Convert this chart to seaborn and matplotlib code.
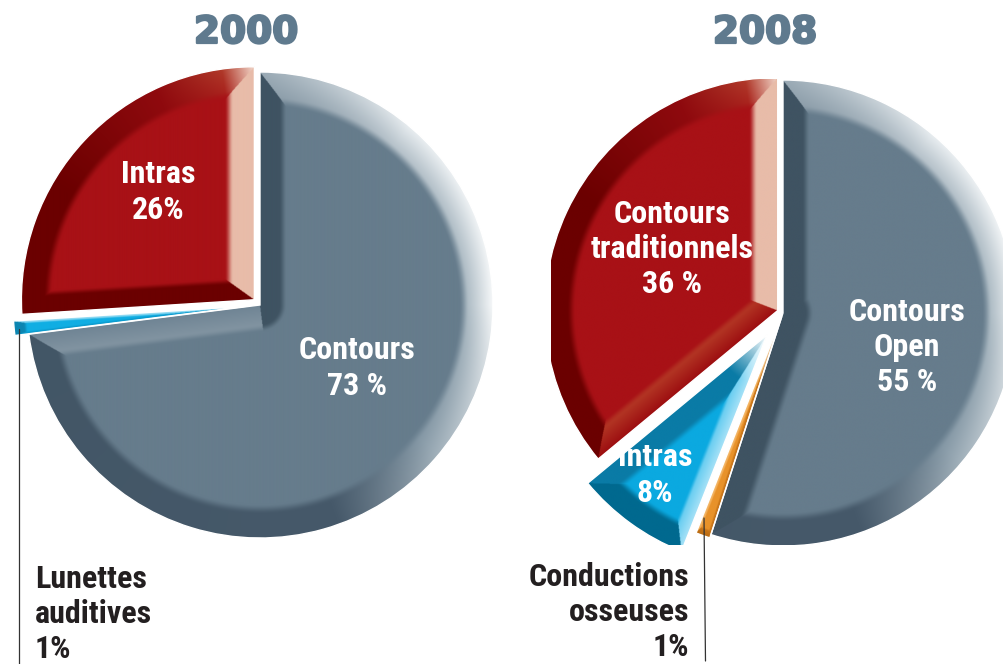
import numpy as np
import matplotlib
matplotlib.use('Agg')
import matplotlib.pyplot as plt
import matplotlib.patheffects as pe
from matplotlib.colors import to_rgb
import seaborn as sns

# values (clockwise from the top)
years = ['2000', '2008']
names_2000 = ['Contours', 'Lunettes auditives', 'Intras']
values_2000 = [73, 1, 26]
names_2008 = ['Contours Open', 'Conductions osseuses', 'Intras', 'Contours traditionnels']
values_2008 = [55, 1, 8, 36]

W, H = 1004, 664
R_PX = 233

sns.set_theme(style='white')
plt.rcParams['font.family'] = ['Roboto Condensed', 'Archivo Narrow', 'Liberation Sans', 'DejaVu Sans']

# shading of a slice: flat face, bevel bands along the arc and both straight edges
GREY_ARC = [(0, '#9aaab5', '#8496a3'), (40, '#e8edf0', '#aebbc4'), (90, '#f6f8f9', '#a3b3bd'),
            (130, '#a3b2bc', '#7f93a1'), (160, '#46596a', '#46596a'), (360, '#3f5362', '#3f5362')]
RED_ARC = [(0, '#6b0000', '#6b0000'), (300, '#6b0000', '#6b0000'), (335, '#8f0a0e', '#8f0a0e'),
           (352, '#b03a2a', '#a8201c'), (360, '#f2d8cc', '#e8bca9')]
BLUE_ARC = [(0, '#00698f', '#00698f'), (360, '#00698f', '#00698f')]
SLIVER_ARC = [(0, '#0c86b2', '#0c86b2'), (360, '#0c86b2', '#0c86b2')]
ORANGE_ARC = [(0, '#b86a12', '#c9761a'), (360, '#b86a12', '#c9761a')]

grey_2000 = dict(face='#667c8c', arc=GREY_ARC, w=(0.125, 0.10, 0.10),
                 start=('#3f5362', '#3f5362'), end=('#6f8494', '#8496a3'), apex=0)
grey_2008 = dict(face='#667c8c', arc=GREY_ARC, w=(0.125, 0.10, 0.115),
                 start=('#3f5362', '#3f5362'), end=('#3f5362', '#3f5362'), apex=0)
sliver_2000 = dict(face='#10aee3', arc=SLIVER_ARC, w=(0.05, 0.01, 0.012),
                   start=('#0c9ccf', '#0c9ccf'), end=('#bfe9f7', '#5cc8ec'), apex=0.12)
orange_2008 = dict(face='#e8922a', arc=ORANGE_ARC, w=(0.03, 0.012, 0.012),
                   start=('#c9761a', '#c9761a'), end=('#f6c27a', '#f0a850'), apex=0.3)
blue_2008 = dict(face='#0ba9e0', arc=BLUE_ARC, w=(0.11, 0.06, 0.10),
                 start=('#a8e2f7', '#62cbf0'), end=('#0a7ba6', '#0a7ba6'), apex=0.22)
red_2000 = dict(face='#a81116', arc=RED_ARC, w=(0.115, 0.085, 0.11),
                start=('#6b0000', '#6b0000'), end=('#e8bca9', '#e8bca9'), apex=0)
red_2008 = dict(face='#a81116', arc=RED_ARC, w=(0.115, 0.10, 0.107),
                start=('#9c0d10', '#b53a26'), end=('#e8bca9', '#e8bca9'), apex=0)


def edge_dist(dx, dy, angle):
    ux, uy = np.cos(np.radians(angle)), np.sin(np.radians(angle))
    t = np.maximum(dx * ux + dy * uy, 0)
    return np.hypot(dx - t * ux, dy - t * uy)


def shade(ax, wedge, st):
    x0, x1 = ax.get_xlim()
    y0, y1 = ax.get_ylim()
    xs, ys = np.meshgrid(np.linspace(x0, x1, 1000), np.linspace(y0, y1, 1000))
    dx, dy = xs - wedge.center[0], ys - wedge.center[1]
    r = np.hypot(dx, dy)
    compass = (90 - np.degrees(np.arctan2(dy, dx))) % 360

    m = np.stack([(wedge.r - r) / st['w'][0],
                  edge_dist(dx, dy, wedge.theta2) / st['w'][1],
                  edge_dist(dx, dy, wedge.theta1) / st['w'][2]])
    which = m.argmin(axis=0)
    mm = np.clip(m.min(axis=0), 0, None)

    angs = [s[0] for s in st['arc']]
    img = np.zeros(xs.shape + (3,))
    face = np.array(to_rgb(st['face']))
    for c in range(3):
        outer = np.interp(compass, angs, [to_rgb(s[1])[c] for s in st['arc']])
        inner = np.interp(compass, angs, [to_rgb(s[2])[c] for s in st['arc']])
        outer = np.where(which == 1, to_rgb(st['start'][0])[c], outer)
        inner = np.where(which == 1, to_rgb(st['start'][1])[c], inner)
        outer = np.where(which == 2, to_rgb(st['end'][0])[c], outer)
        inner = np.where(which == 2, to_rgb(st['end'][1])[c], inner)
        band = outer + (inner - outer) * np.clip(mm, 0, 1)
        t = np.clip((mm - 0.82) / 0.34, 0, 1)
        t = t * t * (3 - 2 * t)
        img[..., c] = band * (1 - t) + face[c] * t
    if st['apex'] > 0:
        k = np.clip(1 - r / st['apex'], 0, 1)[..., None]
        img = img * (1 - k) + k
    im = ax.imshow(img, extent=(x0, x1, y0, y1), origin='lower', aspect='auto',
                   interpolation='bilinear', zorder=2)
    im.set_clip_path(wedge)
    wedge.set_facecolor('none')
    wedge.set_zorder(3)


def pie_chart(values, explode, styles, box, center):
    ax = fig.add_axes([box[0] / W, 1 - box[3] / H, (box[2] - box[0]) / W, (box[3] - box[1]) / H])
    wedges, _ = ax.pie(values, explode=explode, startangle=90, counterclock=False,
                       colors=sns.color_palette([s['face'] for s in styles]),
                       wedgeprops=dict(edgecolor='white', linewidth=1.0))
    ax.set_aspect('auto')
    ax.set_xlim((box[0] - center[0]) / R_PX, (box[2] - center[0]) / R_PX)
    ax.set_ylim((center[1] - box[3]) / R_PX, (center[1] - box[1]) / R_PX)
    for w, st in zip(wedges, styles):
        shade(ax, w, st)
    ax.axis('off')
    return ax


fig = plt.figure(figsize=(W / 100, H / 100), dpi=100, facecolor='white')

pie_chart(values_2000, [0, 0.06, 0.033], [grey_2000, sliver_2000, red_2000],
          (0, 50, 510, 550), (260, 305))
pie_chart(values_2008, [0, 0.015, 0.115, 0.025], [grey_2008, orange_2008, blue_2008, red_2008],
          (551, 79, 1004, 545), (783, 313))

# overlay in pixel coordinates for titles, labels and leader lines
over = fig.add_axes([0, 0, 1, 1], facecolor='none')
over.set_xlim(0, W)
over.set_ylim(H, 0)
over.axis('off')

for year, x in zip(years, [246, 765]):
    over.text(x, 33, year, ha='center', va='center', fontsize=27, fontweight='bold',
              family='DejaVu Sans', color='#5f7a8e',
              path_effects=[pe.withStroke(linewidth=1.6, foreground='#5f7a8e')])

inside = [('Intras\n26%', 158, 192), ('Contours\n73 %', 357, 368),
          ('Contours\ntraditionnels\n36 %', 672, 249), ('Contours\nOpen\n55 %', 907, 347),
          ('Intras\n8%', 655, 475)]
for txt, x, y in inside:
    over.text(x, y, txt, ha='center', va='center', fontsize=23, fontweight='bold',
              color='white', linespacing=1.22)

over.text(35, 614, 'Lunettes\nauditives\n1%', ha='left', va='center', fontsize=23,
          fontweight='bold', color='#231f20', linespacing=1.22)
over.text(689, 612, 'Conductions\nosseuses\n1%', ha='right', va='center', fontsize=23,
          fontweight='bold', color='#231f20', linespacing=1.22)

over.plot([19, 19], [329, 664], color='#333333', lw=0.9)
over.plot([704, 705.5], [518, 661], color='#333333', lw=0.9)

fig.savefig('out.png', dpi=100)
